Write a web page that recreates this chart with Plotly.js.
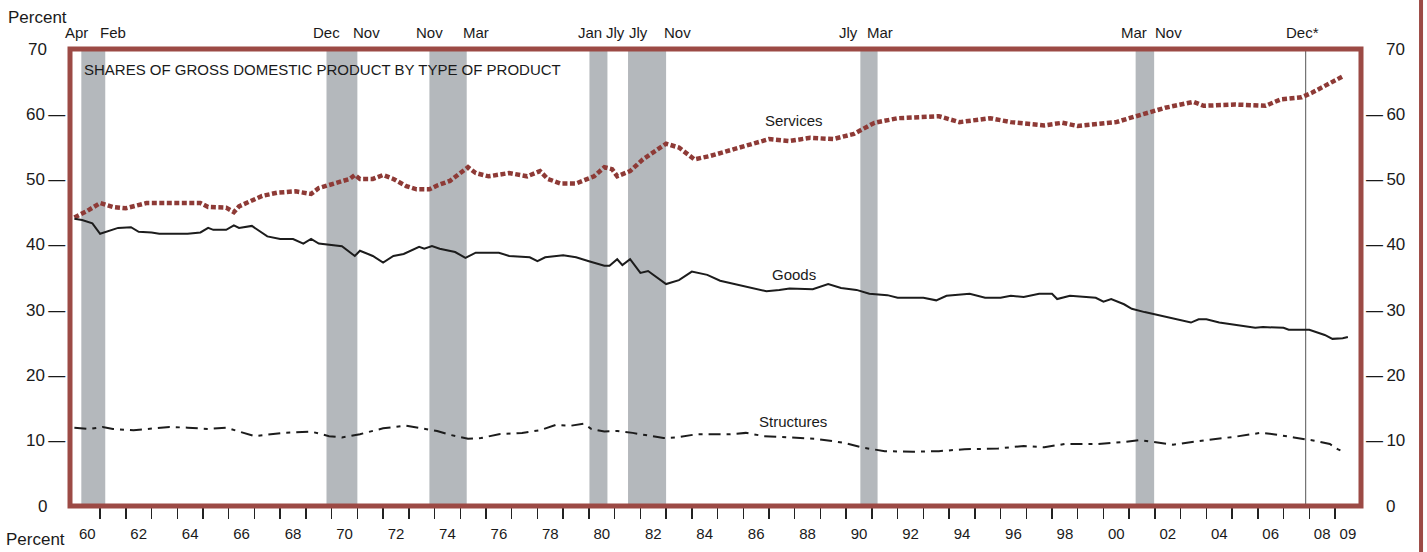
<!DOCTYPE html>
<html>
<head>
<meta charset="utf-8">
<script src="https://cdn.plot.ly/plotly-3.0.1.min.js"></script>
<style>
  html, body { margin: 0; padding: 0; background: #ffffff; }
  #chart { width: 1427px; height: 552px; }
</style>
</head>
<body>
<div id="chart"></div>
<script>
// ---------------- DATA ----------------
const servicesYears = [1960.0,1960.5,1961.0,1961.5,1962.0,1962.8,1963.7,1964.9,1965.2,1965.9,1966.2,1966.4,1967.3,1967.9,1968.6,1969.2,1969.5,1970.2,1970.7,1970.9,1971.1,1971.6,1972.0,1972.4,1972.9,1973.3,1973.8,1974.1,1974.6,1975.3,1975.6,1976.1,1976.9,1977.6,1978.1,1978.4,1978.9,1979.5,1980.2,1980.6,1980.9,1981.1,1981.6,1982.1,1982.6,1983.0,1983.5,1983.8,1984.1,1984.7,1985.5,1986.3,1987.0,1987.8,1988.6,1989.5,1990.3,1991.1,1992.0,1993.6,1994.4,1995.6,1996.4,1997.7,1998.4,1999.0,2000.5,2001.0,2001.8,2002.4,2003.5,2003.9,2005.1,2006.3,2006.9,2007.7,2008.1,2008.7,2009.3];
const servicesValues = [44.2,45.2,46.4,45.8,45.6,46.4,46.4,46.4,45.8,45.7,45.0,45.9,47.5,48.0,48.2,47.8,48.7,49.5,50.1,50.7,50.1,50.1,50.7,50.1,49.0,48.5,48.5,49.1,49.8,51.9,51.0,50.5,51.0,50.5,51.3,50.1,49.4,49.4,50.5,51.9,51.6,50.5,51.3,53.1,54.4,55.5,54.9,53.9,53.1,53.6,54.5,55.4,56.2,55.9,56.4,56.2,57.0,58.7,59.4,59.7,58.8,59.4,58.8,58.3,58.7,58.2,58.8,59.4,60.4,61.0,61.9,61.3,61.5,61.3,62.3,62.6,63.3,64.6,65.8];

const goodsYears = [1960.0,1960.3,1960.7,1961.0,1961.7,1962.2,1962.5,1963.0,1963.3,1964.4,1964.9,1965.2,1965.4,1965.9,1966.2,1966.4,1966.9,1967.5,1968.0,1968.5,1968.9,1969.2,1969.5,1970.4,1970.9,1971.1,1971.6,1972.0,1972.4,1972.8,1973.4,1973.6,1973.9,1974.2,1974.8,1975.2,1975.6,1976.5,1976.9,1977.7,1978.0,1978.3,1979.0,1979.5,1980.0,1980.6,1980.8,1981.1,1981.3,1981.6,1982.0,1982.3,1983.0,1983.5,1984.0,1984.6,1985.1,1985.7,1986.4,1986.9,1987.4,1987.8,1988.7,1989.3,1989.8,1990.4,1990.9,1991.6,1992.0,1993.0,1993.5,1993.9,1994.8,1995.4,1996.0,1996.4,1996.9,1997.5,1998.0,1998.2,1998.7,1999.7,2000.0,2000.3,2000.8,2001.1,2001.6,2002.2,2002.9,2003.4,2003.7,2004.0,2004.5,2005.2,2005.9,2006.2,2007.0,2007.2,2008.0,2008.6,2008.9,2009.3,2009.5];
const goodsValues = [44.0,43.8,43.3,41.7,42.6,42.7,42.0,41.9,41.7,41.7,41.9,42.6,42.3,42.3,43.0,42.6,42.9,41.3,40.9,40.9,40.2,40.9,40.2,39.8,38.3,39.1,38.3,37.3,38.3,38.6,39.7,39.4,39.8,39.4,38.9,38.0,38.8,38.8,38.3,38.1,37.5,38.1,38.4,38.1,37.5,36.8,36.8,37.8,36.9,37.8,35.7,36.0,34.0,34.6,35.9,35.4,34.5,34.0,33.4,32.9,33.1,33.3,33.2,34.0,33.4,33.1,32.5,32.3,31.9,31.9,31.5,32.2,32.5,31.9,31.9,32.2,32.0,32.5,32.5,31.7,32.2,31.9,31.3,31.7,30.9,30.2,29.7,29.2,28.6,28.1,28.6,28.6,28.1,27.7,27.3,27.4,27.3,27.0,27.0,26.2,25.6,25.7,25.9];

const structuresYears = [1960.0,1960.6,1961.1,1961.5,1962.3,1963.7,1964.4,1965.2,1965.9,1966.6,1967.0,1968.1,1969.2,1969.9,1970.4,1971.1,1972.0,1972.9,1973.6,1974.1,1974.6,1975.3,1975.8,1976.5,1977.4,1978.1,1978.7,1979.3,1979.8,1980.1,1980.6,1981.1,1981.7,1982.4,1982.9,1983.4,1984.2,1985.5,1986.1,1986.8,1987.8,1988.8,1989.9,1990.7,1991.5,1992.6,1993.6,1994.6,1995.9,1996.9,1997.7,1998.5,1999.8,2000.8,2001.4,2002.2,2002.7,2004.0,2005.1,2006.1,2006.6,2007.4,2008.2,2008.8,2009.1,2009.4];
const structuresValues = [12.0,11.8,12.1,11.8,11.6,12.1,12.0,11.8,12.0,11.2,10.7,11.2,11.4,10.7,10.5,11.0,11.9,12.3,11.8,11.5,10.9,10.3,10.4,11.0,11.2,11.6,12.4,12.3,12.6,11.8,11.4,11.5,11.2,10.7,10.4,10.5,11.0,11.0,11.2,10.7,10.5,10.3,9.7,8.9,8.4,8.3,8.4,8.7,8.8,9.2,9.0,9.5,9.5,9.8,10.1,9.7,9.4,10.1,10.6,11.2,11.0,10.5,10.0,9.5,8.7,8.2];

// recession periods (fractional years)
const recessionStarts = [1960.27, 1969.80, 1973.80, 1980.02, 1981.52, 1990.55, 2001.25];
const recessionEnds   = [1961.20, 1971.00, 1975.25, 1980.72, 1983.00, 1991.22, 2001.97];
const dec2007 = 2007.86;

// month labels over the recessions
const monthLabels = ["Apr","Feb","Dec","Nov","Nov","Mar","Jan","Jly","Jly","Nov","Jly","Mar","Mar","Nov","Dec*"];
const monthLabelYears = [1960.10,1961.50,1969.80,1971.34,1973.79,1975.62,1980.04,1981.02,1981.91,1983.46,1990.07,1991.32,2001.20,2002.52,2007.75];

// axis ticks
const xLabelYears = [1960.5,1962.5,1964.5,1966.5,1968.5,1970.5,1972.5,1974.5,1976.5,1978.5,1980.5,1982.5,1984.5,1986.5,1988.5,1990.5,1992.5,1994.5,1996.5,1998.5,2000.5,2002.5,2004.5,2006.5,2008.5,2009.5];
const xLabelText  = ["60","62","64","66","68","70","72","74","76","78","80","82","84","86","88","90","92","94","96","98","00","02","04","06","08","09"];
const xTickYears = [1961,1962,1963,1964,1965,1966,1967,1968,1969,1970,1971,1972,1973,1974,1975,1976,1977,1978,1979,1980,1981,1982,1983,1984,1985,1986,1987,1988,1989,1990,1991,1992,1993,1994,1995,1996,1997,1998,1999,2000,2001,2002,2003,2004,2005,2006,2007,2008,2009];
const yTickValues = [10,20,30,40,50,60];   // labels drawn with a dash
const yEndValues = [0,70];                 // labels drawn without a dash

// ---------------- STYLE ----------------
const FONT = '"Liberation Sans", Arial, Helvetica, sans-serif';
const FRAME = '#9c4a45';
const SERV = '#8e3a36';
const BAR = '#b4b8bc';
const INK = '#1a1a1a';
const XR = [1959.83, 2010.01];
const YR = [0, 70];
const DASH = '\u2014';
const THIN = '\u2009';

const traces = [
  { x: servicesYears, y: servicesValues, type: 'scatter', mode: 'lines',
    line: { color: SERV, width: 4.5, dash: '5px,2.5px' }, hoverinfo: 'skip' },
  { x: goodsYears, y: goodsValues, type: 'scatter', mode: 'lines',
    line: { color: '#1c1c1c', width: 2 }, hoverinfo: 'skip' },
  { x: structuresYears, y: structuresValues, type: 'scatter', mode: 'lines',
    line: { color: '#1c1c1c', width: 2, dash: '12px,6px,4px,6px' }, hoverinfo: 'skip' }
];

const shapes = [];
for (let i = 0; i < recessionStarts.length; i++) {
  shapes.push({ type: 'rect', xref: 'x', yref: 'paper', x0: recessionStarts[i], x1: recessionEnds[i],
    y0: 0, y1: 1, fillcolor: BAR, line: { width: 0 }, layer: 'below' });
}
shapes.push({ type: 'line', xref: 'x', yref: 'paper', x0: dec2007, x1: dec2007, y0: 0, y1: 1,
  line: { color: '#555555', width: 1 }, layer: 'below' });
// frame
shapes.push({ type: 'rect', xref: 'paper', yref: 'paper', x0: 0, x1: 1, y0: 0, y1: 1,
  line: { color: FRAME, width: 5 }, fillcolor: 'rgba(0,0,0,0)' });
// outer right border of the page
shapes.push({ type: 'line', xref: 'paper', yref: 'paper', x0: 1.0465, x1: 1.0465, y0: -0.12, y1: 1.12,
  line: { color: FRAME, width: 4 } });

const tfY = { family: FONT, size: 17, color: INK };
const annotations = [];
for (let i = 0; i < monthLabels.length; i++) {
  annotations.push({ x: monthLabelYears[i], xref: 'x', y: 1.037, yref: 'paper', text: monthLabels[i],
    showarrow: false, xanchor: 'center', yanchor: 'middle', font: { family: FONT, size: 15, color: INK } });
}
// y-axis labels with tick dashes (left and right)
for (let i = 0; i < yTickValues.length; i++) {
  const v = yTickValues[i];
  annotations.push({ x: -0.0023, xref: 'paper', y: v, yref: 'y', text: v + THIN + DASH,
    showarrow: false, xanchor: 'right', yanchor: 'middle', font: tfY });
  annotations.push({ x: 1.0023, xref: 'paper', y: v, yref: 'y', text: DASH + THIN + v,
    showarrow: false, xanchor: 'left', yanchor: 'middle', font: tfY });
}
for (let i = 0; i < yEndValues.length; i++) {
  const v = yEndValues[i];
  annotations.push({ x: -0.0165, xref: 'paper', y: v, yref: 'y', text: String(v),
    showarrow: false, xanchor: 'right', yanchor: 'middle', font: tfY });
  annotations.push({ x: 1.0175, xref: 'paper', y: v, yref: 'y', text: String(v),
    showarrow: false, xanchor: 'left', yanchor: 'middle', font: tfY });
}
annotations.push({ x: -0.0495, xref: 'paper', y: 1.07, yref: 'paper', text: 'Percent', showarrow: false,
  xanchor: 'left', yanchor: 'middle', font: tfY });
annotations.push({ x: -0.051, xref: 'paper', y: -0.0985, yref: 'paper', text: 'Percent', showarrow: false,
  xanchor: 'left', yanchor: 'bottom', font: tfY });
annotations.push({ x: 0.0093, xref: 'paper', y: 0.956, yref: 'paper', text: 'SHARES OF GROSS DOMESTIC PRODUCT BY TYPE OF PRODUCT',
  showarrow: false, xanchor: 'left', yanchor: 'middle', font: { family: FONT, size: 15, color: INK } });
annotations.push({ x: 1987.97, xref: 'x', y: 59.1, yref: 'y', text: 'Services', showarrow: false,
  xanchor: 'center', yanchor: 'middle', font: { family: FONT, size: 15, color: INK } });
annotations.push({ x: 1987.97, xref: 'x', y: 35.5, yref: 'y', text: 'Goods', showarrow: false,
  xanchor: 'center', yanchor: 'middle', font: { family: FONT, size: 15, color: INK } });
annotations.push({ x: 1987.93, xref: 'x', y: 12.9, yref: 'y', text: 'Structures', showarrow: false,
  xanchor: 'center', yanchor: 'middle', font: { family: FONT, size: 15, color: INK } });

const layout = {
  width: 1427, height: 552,
  margin: { l: 70, r: 66, t: 49, b: 46, pad: 0 },
  paper_bgcolor: '#ffffff', plot_bgcolor: '#ffffff',
  showlegend: false,
  font: { family: FONT, color: INK },
  xaxis: { range: XR, showgrid: false, zeroline: false, showline: false,
    tickmode: 'array', tickvals: xLabelYears, ticktext: xLabelText,
    ticks: 'outside', ticklen: 14, tickcolor: 'rgba(0,0,0,0)', tickfont: { family: FONT, size: 15, color: INK },
    minor: { tickmode: 'array', tickvals: xTickYears, ticks: 'outside', ticklen: 12, tickwidth: 1.5, tickcolor: '#222222', showgrid: false } },
  yaxis: { range: YR, showgrid: false, zeroline: false, showline: false,
    ticks: '', showticklabels: false },
  shapes: shapes,
  annotations: annotations
};

Plotly.newPlot('chart', traces, layout, { staticPlot: true, displayModeBar: false });
</script>
</body>
</html>
